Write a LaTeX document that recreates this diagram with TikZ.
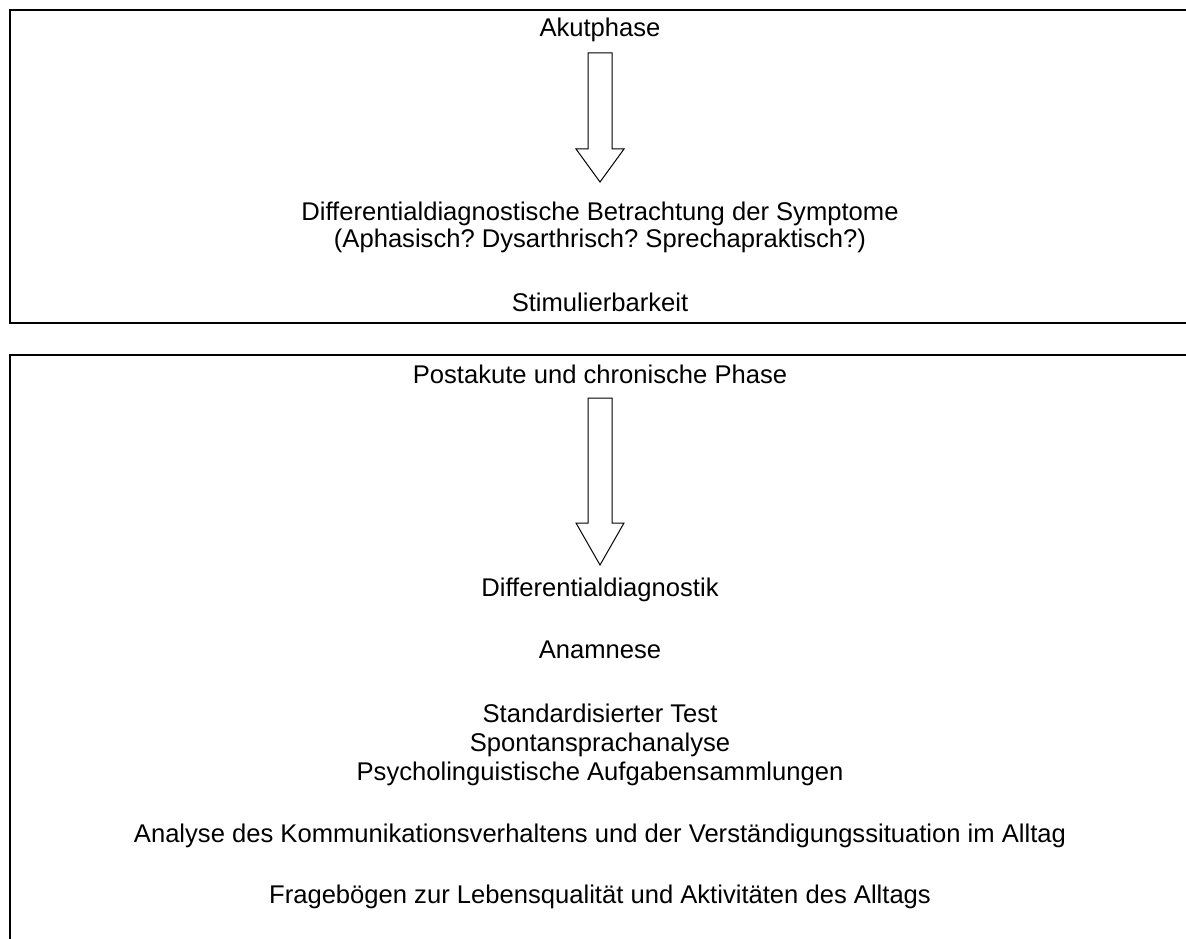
\documentclass[tikz,border=0pt]{standalone}
\usepackage{fontspec}
\setmainfont{Liberation Sans}
\frenchspacing
\begin{document}
\begin{tikzpicture}[x=1pt,y=-1pt,
  txt/.style={anchor=base,inner sep=0pt,font=\fontsize{25.6}{29.5}\selectfont},
  frame/.style={draw=black,line width=2.6pt},
  bigarrow/.style={draw=black,line width=1pt,fill=white,line join=miter}]
\useasboundingbox (0,0) rectangle (1186,939);
\clip (0,0) rectangle (1186,939);
% boxes
\draw[frame] (10,10) rectangle (1220,323);
\draw[frame] (10,355) rectangle (1220,980);
% top box content
\node[txt] (akut) at (600,37) {Akutphase};
\draw[bigarrow] (588,53) -- (612,53) -- (612,149) -- (624,149) -- (600,182) -- (576,149) -- (588,149) -- cycle;
\node[txt] (diff1) at (600,220) {Differentialdiagnostische Betrachtung der Symptome};
\node[txt] (diff2) at (600,247) {(Aphasisch? Dysarthrisch? Sprechapraktisch?)};
\node[txt] (stim) at (600,311) {Stimulierbarkeit};
% bottom box content
\node[txt] (post) at (600,383) {Postakute und chronische Phase};
\draw[bigarrow] (588,398) -- (612,398) -- (612,523) -- (624,523) -- (600,565) -- (576,523) -- (588,523) -- cycle;
\node[txt] (dd) at (600,596) {Differentialdiagnostik};
\node[txt] (anam) at (600,658) {Anamnese};
\node[txt] (std) at (600,722) {Standardisierter Test};
\node[txt] (spont) at (600,751) {Spontansprachanalyse};
\node[txt] (psy) at (600,780) {Psycholinguistische Aufgabensammlungen};
\node[txt] (ana) at (600,842) {Analyse des Kommunikationsverhaltens und der Verständigungssituation im Alltag};
\node[txt] (frag) at (600,903) {Fragebögen zur Lebensqualität und Aktivitäten des Alltags};
\end{tikzpicture}
\end{document}
